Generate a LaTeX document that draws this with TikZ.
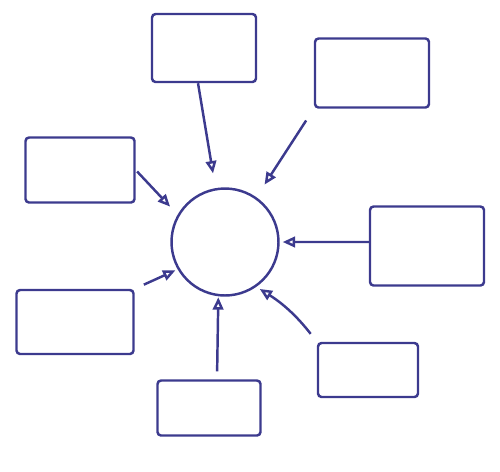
\documentclass[tikz,border=0pt]{standalone}
\usepackage{xcolor}
\usetikzlibrary{arrows.meta,calc}
\definecolor{InkBlue}{HTML}{3C3A8E}

\begin{document}
\begin{tikzpicture}[x=0.02cm,y=-0.02cm,line width=1.4pt,draw=InkBlue,
  box/.style={draw=InkBlue,rounded corners=2pt,inner sep=0pt},
  hub/.style={draw=InkBlue,circle,minimum size=2.14cm,inner sep=0pt},
  feed/.style={draw=InkBlue,-{Triangle[open,length=7pt,width=6pt]}}]
 \useasboundingbox (0,0) rectangle (500,471);
 \node[hub] (hub) at (225,242) {};
 \node[box,minimum width=2.08cm,minimum height=1.36cm] (boxT) at (204,48) {};
 \node[box,minimum width=2.28cm,minimum height=1.38cm] (boxTR) at (372,73) {};
 \node[box,minimum width=2.18cm,minimum height=1.30cm] (boxL1) at (80,170) {};
 \node[box,minimum width=2.34cm,minimum height=1.28cm] (boxL2) at (75,322) {};
 \node[box,minimum width=2.28cm,minimum height=1.58cm] (boxR) at (427,246) {};
 \node[box,minimum width=2.00cm,minimum height=1.08cm] (boxBR) at (368,370) {};
 \node[box,minimum width=2.06cm,minimum height=1.10cm] (boxB) at (209,408) {};
 \draw[feed,shorten >=0.3cm] ([xshift=-0.12cm]boxT.south) -- (hub.100);
 \draw[feed,shorten <=0.28cm,shorten >=0.3cm] (boxTR.south west) -- (hub.55);
 \draw[feed,shorten <=0.04cm,shorten >=0.22cm] (boxL1.east) -- (hub.150);
 \draw[feed,shorten >=0.06cm] ([yshift=0.08cm]boxR.west) -- (hub.east);
 \draw[feed,shorten <=0.2cm,shorten >=0.05cm] (boxL2.north east) -- (hub.210);
 \draw[feed,shorten <=0.16cm,shorten >=0.02cm] ([xshift=0.16cm]boxB.north) -- (hub.263);
 \draw[feed,shorten <=0.2cm,shorten >=0.08cm] (boxBR.north west) to[bend right=10] (hub.-55);
\end{tikzpicture}
\end{document}
